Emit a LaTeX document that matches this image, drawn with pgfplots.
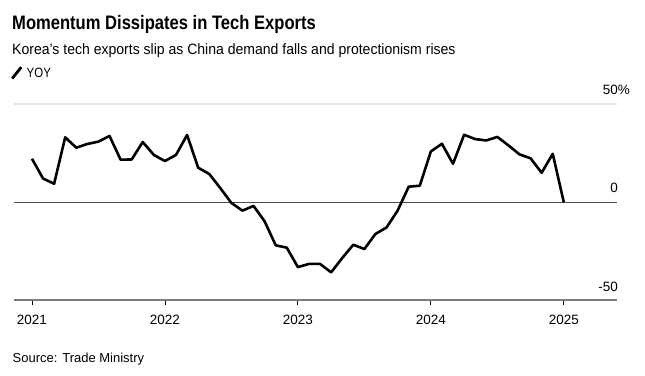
\documentclass[border=0pt]{standalone}
\usepackage{fontspec}
\setmainfont{Liberation Sans}
\usepackage{pgfplots}
\pgfplotsset{compat=1.18}
\definecolor{zeroline}{HTML}{4D4D4D}
\definecolor{gridc}{HTML}{E6E6E6}
\definecolor{axisc}{HTML}{7A7A7A}
\pgfplotstableread{
m v
0 22.1
1 12.0
2 9.3
3 33.0
4 27.7
5 29.6
6 30.8
7 33.7
8 21.6
9 21.7
10 30.6
11 24.0
12 20.9
13 24.0
14 34.2
15 17.5
16 14.3
17 7.1
18 -0.5
19 -4.4
20 -2.0
21 -9.9
22 -22.1
23 -23.3
24 -33.2
25 -31.6
26 -31.6
27 -35.9
28 -28.6
29 -21.8
30 -24.0
31 -16.3
32 -13.0
33 -4.4
34 7.8
35 8.3
36 25.8
37 29.7
38 19.5
39 34.3
40 32.1
41 31.4
42 33.2
43 28.9
44 24.3
45 22.3
46 14.9
47 24.6
48 -0.2
}\yoy
\begin{document}
\begin{tikzpicture}[x=1bp,y=1bp]
\useasboundingbox (0,0) rectangle (645,375);
\node[anchor=base west, inner sep=0] at (12,346) {\scalebox{0.85}[1]{\fontsize{19.5bp}{20bp}\selectfont\bfseries Momentum Dissipates in Tech Exports}};
\node[anchor=base west, inner sep=0] at (12,321) {\scalebox{0.935}[1]{\fontsize{15bp}{16bp}\selectfont Korea's tech exports slip as China demand falls and protectionism rises}};
\draw[line width=2.8bp, black] (12.2,296.5) -- (21.2,307.8);
\node[anchor=base west, inner sep=0] at (26.5,297.5) {\scalebox{0.85}[1]{\fontsize{13.5bp}{14bp}\selectfont YOY}};
\node[anchor=base west, inner sep=0] at (12.5,12.3) {\fontsize{13bp}{14bp}\selectfont Source: Trade Ministry};
\begin{axis}[
  at={(14bp,75bp)}, anchor=south west,
  scale only axis, width=603bp, height=196bp,
  xmin=-1.62, xmax=52.8, ymin=-50, ymax=50,
  axis x line=bottom, axis y line=left,
  x axis line style={-, axisc, line width=1.1bp},
  y axis line style={draw=none},
  xtick={0,12,24,36,48},
  xticklabels={2021,2022,2023,2024,2025},
  tick align=outside,
  major tick length=5bp,
  x tick style={black, line width=0.8bp},
  xticklabel style={font=\fontsize{13.5bp}{14bp}\selectfont, anchor=north, inner sep=0pt, yshift=-10bp},
  ytick={50},
  yticklabels={},
  y tick style={draw=none},
  ymajorgrids,
  grid style={gridc, line width=1.4bp},
  extra y ticks={0},
  extra y tick labels={},
  extra y tick style={grid style={zeroline, line width=0.9bp}, tick style={draw=none}},
  clip=false,
]
\addplot[black, line width=2.6bp, line join=round] table[x=m, y=v] {\yoy};
\node[anchor=base east, inner sep=0, font=\fontsize{13.5bp}{14bp}\selectfont] at (axis cs:52.8,50) [xshift=1bp, yshift=9.3bp] {50\rlap{\%}};
\node[anchor=base east, inner sep=0, font=\fontsize{13.5bp}{14bp}\selectfont] at (axis cs:52.8,0) [xshift=1bp, yshift=9.5bp] {0};
\node[anchor=base east, inner sep=0, font=\fontsize{13.5bp}{14bp}\selectfont] at (axis cs:52.8,-50) [xshift=1bp, yshift=9bp] {-50};
\end{axis}
\end{tikzpicture}
\end{document}
